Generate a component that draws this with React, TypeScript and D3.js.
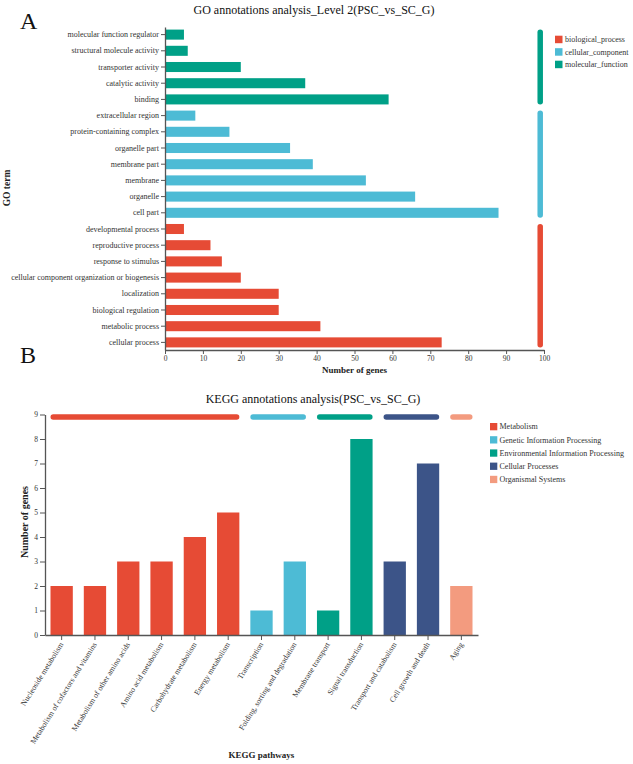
import React, { useEffect, useRef } from "react";
import * as d3 from "d3";

// ---------- GO data (top to bottom) ----------
const goTerms = [
  "molecular function regulator",
  "structural molecule activity",
  "transporter activity",
  "catalytic activity",
  "binding",
  "extracellular region",
  "protein-containing complex",
  "organelle part",
  "membrane part",
  "membrane",
  "organelle",
  "cell part",
  "developmental process",
  "reproductive process",
  "response to stimulus",
  "cellular component organization or biogenesis",
  "localization",
  "biological regulation",
  "metabolic process",
  "cellular process",
];
const goValues = [5, 6, 20, 37, 59, 8, 17, 33, 39, 53, 66, 88, 5, 12, 15, 20, 30, 30, 41, 73];
const goClasses = [
  "molecular_function", "molecular_function", "molecular_function", "molecular_function", "molecular_function",
  "cellular_component", "cellular_component", "cellular_component", "cellular_component", "cellular_component",
  "cellular_component", "cellular_component",
  "biological_process", "biological_process", "biological_process", "biological_process",
  "biological_process", "biological_process", "biological_process", "biological_process",
];
const goLegend = ["biological_process", "cellular_component", "molecular_function"];
const goColors = ["#E64B35", "#4DBBD5", "#00A087"];
const goTicks = [0, 10, 20, 30, 40, 50, 60, 70, 80, 90, 100];

// ---------- KEGG data ----------
const keggPathways = [
  "Nucleoside metabolism",
  "Metabolism of cofactors and vitamins",
  "Metabolism of other amino acids",
  "Amino acid metabolism",
  "Carbohydrate metabolism",
  "Energy metabolism",
  "Transcription",
  "Folding, sorting and degradation",
  "Membrane transport",
  "Signal transduction",
  "Transport and catabolism",
  "Cell growth and death",
  "Aging",
];
const keggValues = [2, 2, 3, 3, 4, 5, 1, 3, 1, 8, 3, 7, 2];
const keggClasses = [
  "Metabolism", "Metabolism", "Metabolism", "Metabolism", "Metabolism", "Metabolism",
  "Genetic Information Processing", "Genetic Information Processing",
  "Environmental Information Processing", "Environmental Information Processing",
  "Cellular Processes", "Cellular Processes",
  "Organismal Systems",
];
const keggLegend = [
  "Metabolism",
  "Genetic Information Processing",
  "Environmental Information Processing",
  "Cellular Processes",
  "Organismal Systems",
];
const keggColors = ["#E64B35", "#4DBBD5", "#00A087", "#3C5488", "#F39B7F"];
const keggTicks = [0, 1, 2, 3, 4, 5, 6, 7, 8, 9];

const FONT = "'Liberation Serif', 'Times New Roman', serif";
const AXIS = "#555";
const TXT = "#333";

function groupSpans(classes: string[], names: string[]) {
  return classes.reduce((acc: { cls: string; first: string; last: string }[], c, i) => {
    const prev = acc[acc.length - 1];
    if (prev && prev.cls === c) prev.last = names[i];
    else acc.push({ cls: c, first: names[i], last: names[i] });
    return acc;
  }, []);
}

export default function App() {
  const goXAxis = useRef<SVGGElement>(null);
  const goYAxis = useRef<SVGGElement>(null);
  const kXAxis = useRef<SVGGElement>(null);
  const kYAxis = useRef<SVGGElement>(null);

  // GO scales
  const gx = d3.scaleLinear().domain([0, 100]).range([165, 544]);
  const gy = d3.scaleBand<string>().domain(goTerms).range([27, 350]).paddingInner(0.38).paddingOuter(0.16);
  const gColor = d3.scaleOrdinal<string, string>().domain(goLegend).range(goColors);

  // KEGG scales
  const kx = d3.scaleBand<string>().domain(keggPathways).range([45, 478]).paddingInner(0.33).paddingOuter(0.165);
  const ky = d3.scaleLinear().domain([0, 9]).range([635, 414.5]);
  const kColor = d3.scaleOrdinal<string, string>().domain(keggLegend).range(keggColors);

  useEffect(() => {
    const style = (g: d3.Selection<SVGGElement, unknown, null, undefined>, fs: number) => {
      g.select(".domain").attr("stroke", AXIS).attr("stroke-width", 1.3);
      g.selectAll(".tick line").attr("stroke", AXIS).attr("stroke-width", 1);
      g.selectAll(".tick text").attr("fill", TXT).style("font-family", FONT).style("font-size", fs + "px");
    };
    if (goXAxis.current) {
      const g = d3.select(goXAxis.current);
      g.call(d3.axisBottom(gx).tickValues(goTicks).tickSize(4).tickPadding(2).tickSizeOuter(0));
      style(g, 7.5);
    }
    if (goYAxis.current) {
      const g = d3.select(goYAxis.current);
      g.call(d3.axisLeft(gy).tickSize(4).tickPadding(2).tickSizeOuter(0));
      style(g, 8);
    }
    if (kYAxis.current) {
      const g = d3.select(kYAxis.current);
      g.call(d3.axisLeft(ky).tickValues(keggTicks).tickFormat(d3.format("d")).tickSize(5).tickPadding(2).tickSizeOuter(0));
      style(g, 7.5);
    }
    if (kXAxis.current) {
      const g = d3.select(kXAxis.current);
      g.call(d3.axisBottom(kx).tickSize(5).tickSizeOuter(0));
      style(g, 7.8);
      g.selectAll<SVGTextElement, string>(".tick text")
        .attr("text-anchor", "end")
        .attr("x", 0)
        .attr("y", 0)
        .attr("dy", "0.32em")
        .attr("transform", "translate(0,8) rotate(-58)");
    }
  }, []);

  const goSpans = groupSpans(goClasses, goTerms);
  const kSpans = groupSpans(keggClasses, keggPathways);
  const sideW = 5.5;
  const topH = 5.5;

  return (
    <div style={{ position: "absolute", left: 0, top: 0 }}>
      <svg width={633} height={764} style={{ display: "block", background: "#fff", fontFamily: FONT }}>
        {/* ---------------- Panel A ---------------- */}
        <text x={20} y={29} fontSize={24} fill="#111">A</text>
        <text x={314} y={14} fontSize={12} textAnchor="middle" fill="#111">
          GO annotations analysis_Level 2(PSC_vs_SC_G)
        </text>
        {goTerms.map((t, i) => (
          <rect key={t} x={gx(0)} y={gy(t)} width={gx(goValues[i]) - gx(0)} height={gy.bandwidth()}
            fill={gColor(goClasses[i])} />
        ))}
        {goSpans.map((s) => (
          <rect key={s.cls} x={gx(99) - sideW / 2} y={gy(s.first)!}
            width={sideW} height={gy(s.last)! + gy.bandwidth() - gy(s.first)!}
            rx={sideW / 2} fill={gColor(s.cls)} />
        ))}
        <g ref={goXAxis} transform={`translate(0,350)`} />
        <g ref={goYAxis} transform={`translate(165,0)`} />
        <text x={(gx(0) + gx(100)) / 2} y={373} fontSize={9} fontWeight="bold" textAnchor="middle" fill="#222">
          Number of genes
        </text>
        <text transform={`translate(10,188) rotate(-90)`} fontSize={9.5} fontWeight="bold" textAnchor="middle" fill="#222">
          GO term
        </text>
        {goLegend.map((c, i) => (
          <g key={c} transform={`translate(555,${39.5 + i * 12.5})`}>
            <rect x={0} y={-3.8} width={7.5} height={7.5} fill={gColor(c)} />
            <text x={10} y={0} dy="0.33em" fontSize={8} fill={TXT}>{c}</text>
          </g>
        ))}

        {/* ---------------- Panel B ---------------- */}
        <text x={20} y={363} fontSize={24} fill="#111">B</text>
        <text x={313} y={403} fontSize={12} textAnchor="middle" fill="#111">
          KEGG annotations analysis(PSC_vs_SC_G)
        </text>
        {keggPathways.map((p, i) => (
          <rect key={p} x={kx(p)} y={ky(keggValues[i])} width={kx.bandwidth()} height={ky(0) - ky(keggValues[i])}
            fill={kColor(keggClasses[i])} />
        ))}
        {kSpans.map((s) => (
          <rect key={s.cls} x={kx(s.first)!} y={ky(8.9) - topH / 2}
            width={kx(s.last)! + kx.bandwidth() - kx(s.first)!} height={topH}
            rx={topH / 2} fill={kColor(s.cls)} />
        ))}
        <g ref={kXAxis} transform={`translate(0,635)`} />
        <g ref={kYAxis} transform={`translate(45,0)`} />
        <text transform={`translate(28,522) rotate(-90)`} fontSize={10} fontWeight="bold" textAnchor="middle" fill="#222">
          Number of genes
        </text>
        <text x={(45 + 478) / 2} y={758} fontSize={9} fontWeight="bold" textAnchor="middle" fill="#222">
          KEGG pathways
        </text>
        {keggLegend.map((c, i) => (
          <g key={c} transform={`translate(490,${426.7 + i * 13.2})`}>
            <rect x={0} y={-3.7} width={7.3} height={7.3} fill={kColor(c)} />
            <text x={9.5} y={0} dy="0.33em" fontSize={8} fill={TXT}>{c}</text>
          </g>
        ))}
      </svg>
    </div>
  );
}
